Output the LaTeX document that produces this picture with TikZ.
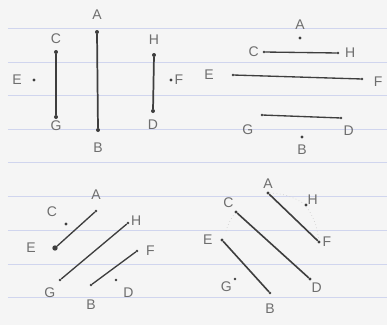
\documentclass[tikz,border=0pt]{standalone}
\usepackage{fontspec}
\setmainfont{Liberation Sans}
\usetikzlibrary{positioning}
\definecolor{paper}{RGB}{245,245,245}
\definecolor{ruled}{RGB}{208,213,238}
\definecolor{pencil}{RGB}{62,62,62}

\begin{document}
\begin{tikzpicture}[
  x=0.75pt, y=-0.75pt,
  dot/.style={circle, fill=pencil, inner sep=0pt, minimum size=#1},
  dot/.default=3pt,
  lbl/.style={inner sep=1pt, text=pencil!75, font=\fontsize{10.5}{12}\selectfont},
  seg/.style={draw=pencil, line width=#1, line cap=round},
  seg/.default=1pt,
  rule/.style={draw=ruled, line width=0.6pt},
  guide/.style={draw=pencil!25, dotted, line width=0.5pt}
]
\fill[paper] (0,0) rectangle (387,325);
\useasboundingbox (0,0) rectangle (387,325);
\foreach \y in {28,62,95,129,162,196,230,264,297}
  \draw[rule] (8,\y) -- (387,\y);

% vertical segments
\node[dot] (aA) at (97,32) {};
\node[dot] (aB) at (98,130) {};
\node[dot] (aC) at (56,52) {};
\node[dot] (aG) at (56,117) {};
\node[dot] (aH) at (154,55) {};
\node[dot] (aD) at (153,111) {};
\node[dot=2.5pt] (aE) at (34,80) {};
\node[dot=2.5pt] (aF) at (171,80) {};
\node[lbl, above=6.5pt of aA] (aAl) {A};
\node[lbl, below=6.5pt of aB] (aBl) {B};
\node[lbl, above=3pt of aC] (aCl) {C};
\node[lbl, below=0pt of aG] (aGl) {G};
\node[lbl, above=5pt of aH] (aHl) {H};
\node[lbl, below=4pt of aD] (aDl) {D};
\node[lbl, left=6.5pt of aE] (aEl) {E};
\node[lbl, right=0pt of aF] (aFl) {F};
\draw[seg=1.3pt] (aA) -- (aB);
\draw[seg=1.3pt] (aC) -- (aG);
\draw[seg=1.3pt] (aH) -- (aD);

% horizontal segments
\node[dot=2.5pt] (bA) at (300,38) {};
\node[dot=2.5pt] (bB) at (302,137) {};
\node[dot=2pt] (bC) at (264,52) {};
\node[dot=2pt] (bH) at (338,53) {};
\node[dot=2pt] (bE) at (233,75) {};
\node[dot=2pt] (bF) at (362,79) {};
\node[dot=2pt] (bG) at (262,115) {};
\node[dot=2pt] (bD) at (341,118) {};
\node[lbl, above=3.5pt of bA] (bAl) {A};
\node[lbl, below=3pt of bB] (bBl) {B};
\node[lbl, left=1.5pt of bC] (bCl) {C};
\node[lbl, right=3pt of bH] (bHl) {H};
\node[lbl, left=12pt of bE] (bEl) {E};
\node[lbl, right=6.5pt of bF, yshift=-2pt] (bFl) {F};
\node[lbl, below left=5pt and 4.5pt of bG] (bGl) {G};
\node[lbl, below right=4pt and 0pt of bD] (bDl) {D};
\draw[seg] (bC) -- (bH);
\draw[seg] (bE) -- (bF);
\draw[seg] (bG) -- (bD);

% rising diagonals
\node[dot=2pt] (cA) at (96,211) {};
\node[dot=2.5pt] (cC) at (66,224) {};
\node[dot=4pt] (cE) at (55,248) {};
\node[dot=2pt] (cH) at (128,223) {};
\node[dot=2pt] (cG) at (60,280) {};
\node[dot=2pt] (cF) at (137,251) {};
\node[dot=2pt] (cB) at (91,285) {};
\node[dot=2pt] (cD) at (116,280) {};
\node[lbl, above=6.5pt of cA] (cAl) {A};
\node[lbl, above left=3pt and 4.5pt of cC] (cCl) {C};
\node[lbl, left=11pt of cE] (cEl) {E};
\node[lbl, right=0pt of cH, yshift=1.5pt] (cHl) {H};
\node[lbl, below left=3.5pt and 1.5pt of cG] (cGl) {G};
\node[lbl, right=4.5pt of cF] (cFl) {F};
\node[lbl, below=9pt of cB] (cBl) {B};
\node[lbl, below right=4pt and 3.5pt of cD] (cDl) {D};
\draw[seg] (cE) -- (cA);
\draw[seg] (cG) -- (cH);
\draw[seg] (cB) -- (cF);

% falling diagonals
\node[dot=2.5pt] (dA) at (268,193) {};
\node[dot=2.5pt] (dC) at (236,212) {};
\node[dot=2.5pt] (dE) at (222,240) {};
\node[dot=2.5pt] (dH) at (306,205) {};
\node[dot=2pt] (dG) at (235,279) {};
\node[dot=2.5pt] (dF) at (319,242) {};
\node[dot=2pt] (dB) at (270,293) {};
\node[dot=2.5pt] (dD) at (310,279) {};
\coordinate (dArc) at (226,231);
\node[lbl, above=0.5pt of dA] (dAl) {A};
\node[lbl, above left=1pt and -0.3pt of dC] (dCl) {C};
\node[lbl, left=4.5pt of dE] (dEl) {E};
\node[lbl, above right=-2pt and -1pt of dH] (dHl) {H};
\node[lbl, below left=0.3pt and 0.4pt of dG] (dGl) {G};
\node[lbl, right=0pt of dF] (dFl) {F};
\node[lbl, below=6pt of dB] (dBl) {B};
\node[lbl, below right=1pt and -1pt of dD] (dDl) {D};
\draw[guide] (dA) to[bend left=15] (dH) to[bend left=15] (dF);
\draw[guide] (dArc) to[bend left=10] (dC);
\draw[seg=1.2pt] (dA) -- (dF);
\draw[seg=1.2pt] (dC) -- (dD);
\draw[seg=1.2pt] (dE) -- (dB);

\end{tikzpicture}
\end{document}
